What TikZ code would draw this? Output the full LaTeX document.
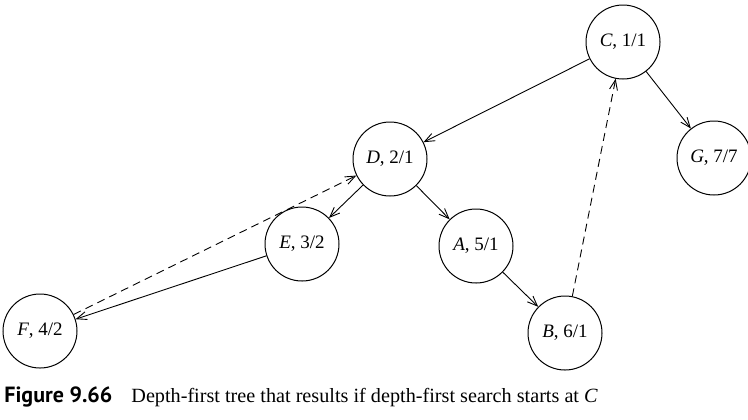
\documentclass[tikz,border=0pt]{standalone}
\usepackage{fontspec}
\setmainfont{Liberation Serif}
\newfontfamily\capfont{PT Sans}
\usetikzlibrary{arrows.meta}
\tikzset{
    vertex/.style={draw,circle,minimum size=37pt,inner sep=0pt,line width=0.5pt,font=\fontsize{9.5}{11}\selectfont},
    treeedge/.style={-{Straight Barb[length=5pt,width=4pt]},line width=0.45pt},
    backedge/.style={treeedge,dash pattern=on 4pt off 2.6pt}
}
\begin{document}
\begin{tikzpicture}[x=0.5pt,y=-0.5pt]
        %Frame
            \useasboundingbox (0,0) rectangle (748,419);
        %Vertices
            \node[vertex] (c) at (623,42) {\textit{C}, 1/1};
            \node[vertex] (d) at (390,159) {\textit{D}, 2/1};
            \node[vertex] (g) at (714,158) {\textit{G}, 7/7};
            \node[vertex] (e) at (302,244) {\textit{E}, 3/2};
            \node[vertex] (a) at (476,246) {\textit{A}, 5/1};
            \node[vertex] (f) at (40,331) {\textit{F}, 4/2};
            \node[vertex] (b) at (565,333) {\textit{B}, 6/1};
        %Tree edges
            \draw[treeedge] (c) -- (d);
            \draw[treeedge] (c) -- (g);
            \draw[treeedge] (d) -- (e);
            \draw[treeedge] (d) -- (a);
            \draw[treeedge] (e) -- (f);
            \draw[treeedge] (a) -- (b);
        %Back edges
            \draw[backedge] (f) -- (d);
            \draw[backedge] (b) -- (c);
        %Caption
            \node[anchor=west,inner sep=0pt] (caption) at (4,397) {{\capfont\bfseries\fontsize{11}{13}\selectfont Figure 9.66}\hspace{9.5pt}\fontsize{10.1}{12}\selectfont Depth-first tree that results if depth-first search starts at \textit{C}};
    \end{tikzpicture}
\end{document}
